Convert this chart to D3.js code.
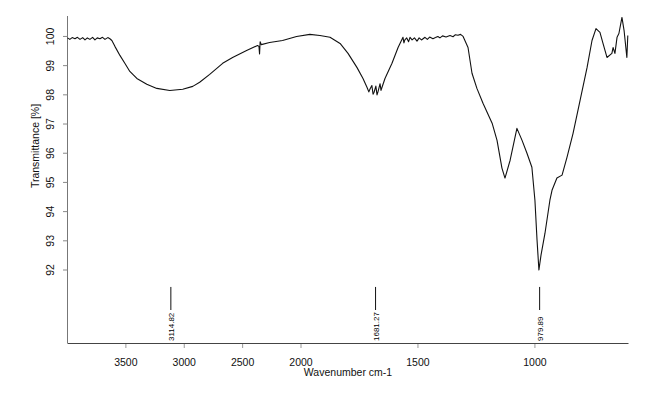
<!DOCTYPE html>
<html><head><meta charset="utf-8">
<script src="https://cdn.jsdelivr.net/npm/d3@7"></script>
<style>body{margin:0;background:#fff}svg{display:block}</style>
</head><body>
<script>
const wavenumber = [4000,3980,3960,3936,3915,3893,3870,3850,3830,3808,3785,3765,3745,3722,3700,3679,3655,3637,3620,3594,3551,3509,3466,3406,3321,3235,3124,3013,2927,2868,2782,2671,2586,2466,2372,2360,2355,2350,2340,2269,2158,2038,1962,1919,1876,1833,1799,1761,1735,1718,1710,1705,1697,1692,1688,1680,1675,1671,1662,1658,1654,1641,1611,1585,1564,1560,1556,1548,1540,1534,1525,1515,1504,1495,1485,1470,1460,1450,1436,1425,1415,1406,1395,1380,1363,1350,1340,1329,1318,1307,1286,1269,1248,1222,1183,1162,1141,1128,1106,1077,1055,1034,1013,1000,991,983,974,957,936,927,906,884,863,837,807,777,756,739,722,709,692,671,666,658,649,641,628,619,607,603];
const transmittance = [99.95,99.9,99.96,99.92,99.97,99.9,99.96,99.88,99.95,99.9,99.97,99.88,99.95,99.92,99.97,99.9,99.96,99.92,99.86,99.66,99.35,99.08,98.8,98.56,98.36,98.22,98.15,98.19,98.29,98.43,98.7,99.08,99.28,99.52,99.69,99.66,99.4,99.82,99.72,99.79,99.86,100.0,100.07,100.03,99.97,99.76,99.42,98.94,98.56,98.26,98.1,98.2,98.32,98.02,98.08,98.3,98.0,98.1,98.38,98.15,98.25,98.56,99.08,99.62,99.97,99.78,99.88,99.95,99.82,99.97,99.88,99.95,99.84,99.95,99.88,99.97,99.9,99.98,99.92,99.96,100.0,99.95,100.02,99.98,100.03,99.99,100.06,100.04,100.07,100.0,99.62,98.74,98.22,97.71,97.03,96.44,95.49,95.15,95.76,96.85,96.44,96.0,95.52,94.39,93.03,92.0,92.51,93.26,94.39,94.73,95.15,95.25,95.86,96.68,97.81,98.94,99.86,100.27,100.14,99.76,99.28,99.42,99.62,99.42,99.97,100.1,100.65,100.21,99.28,100.03];
const peakPositions = [3114.82, 1681.27, 979.89];
const peakLabels = ["3114.82", "1681.27", "979.89"];
const xTicks = [3500, 3000, 2500, 2000, 1500, 1000];
const yTicks = [100, 99, 98, 97, 96, 95, 94, 93, 92];

const W = 652, H = 393;
const svg = d3.select("body").append("svg").attr("width", W).attr("height", H);
const x = d3.scaleLinear().domain([4000, 2000, 600]).range([67.5, 301, 628.5]);
const y = d3.scaleLinear().domain([89.5, 100.7]).range([343, 16]);
const font = "Liberation Sans, Arial, sans-serif";

// axes lines
svg.append("line").attr("x1", 67.5).attr("x2", 67.5).attr("y1", 16).attr("y2", 343).attr("stroke", "#777").attr("stroke-width", 1);
svg.append("line").attr("x1", 67.5).attr("x2", 628.5).attr("y1", 343.5).attr("y2", 343.5).attr("stroke", "#444").attr("stroke-width", 1);

// x ticks
xTicks.forEach(t => {
  svg.append("line").attr("x1", x(t)).attr("x2", x(t)).attr("y1", 344).attr("y2", 348).attr("stroke", "#999");
  svg.append("text").attr("x", x(t)).attr("y", 366).attr("text-anchor", "middle")
    .attr("font-family", font).attr("font-size", 10.5).attr("fill", "#111").text(t);
});
// y ticks
yTicks.forEach(t => {
  svg.append("line").attr("x1", 63).attr("x2", 67.5).attr("y1", y(t)).attr("y2", y(t)).attr("stroke", "#888");
  svg.append("text").attr("transform", `translate(54,${y(t)}) rotate(-90)`).attr("text-anchor", "middle")
    .attr("font-family", font).attr("font-size", 10.5).attr("fill", "#111").text(t);
});
// axis titles
svg.append("text").attr("x", 348).attr("y", 376).attr("text-anchor", "middle")
  .attr("font-family", font).attr("font-size", 10.5).attr("fill", "#111").text("Wavenumber cm-1");
svg.append("text").attr("transform", "translate(39,146) rotate(-90)").attr("text-anchor", "middle")
  .attr("font-family", font).attr("font-size", 10.5).attr("fill", "#111").text("Transmittance [%]");

// spectrum
const pts = wavenumber.map((w, i) => [w, transmittance[i]]);
svg.append("path").datum(pts)
  .attr("d", d3.line().x(d => x(d[0])).y(d => y(d[1])))
  .attr("fill", "none").attr("stroke", "#111").attr("stroke-width", 1.1).attr("stroke-linejoin", "round");

// peak markers
peakPositions.forEach((p, i) => {
  svg.append("line").attr("x1", x(p)).attr("x2", x(p)).attr("y1", y(91.42)).attr("y2", y(90.63))
    .attr("stroke", "#111").attr("stroke-width", 1);
  svg.append("text").attr("transform", `translate(${x(p) + 3},341) rotate(-90)`).attr("text-anchor", "start")
    .attr("font-family", font).attr("font-size", 8).attr("fill", "#000").text(peakLabels[i]);
});
</script>
</body></html>
